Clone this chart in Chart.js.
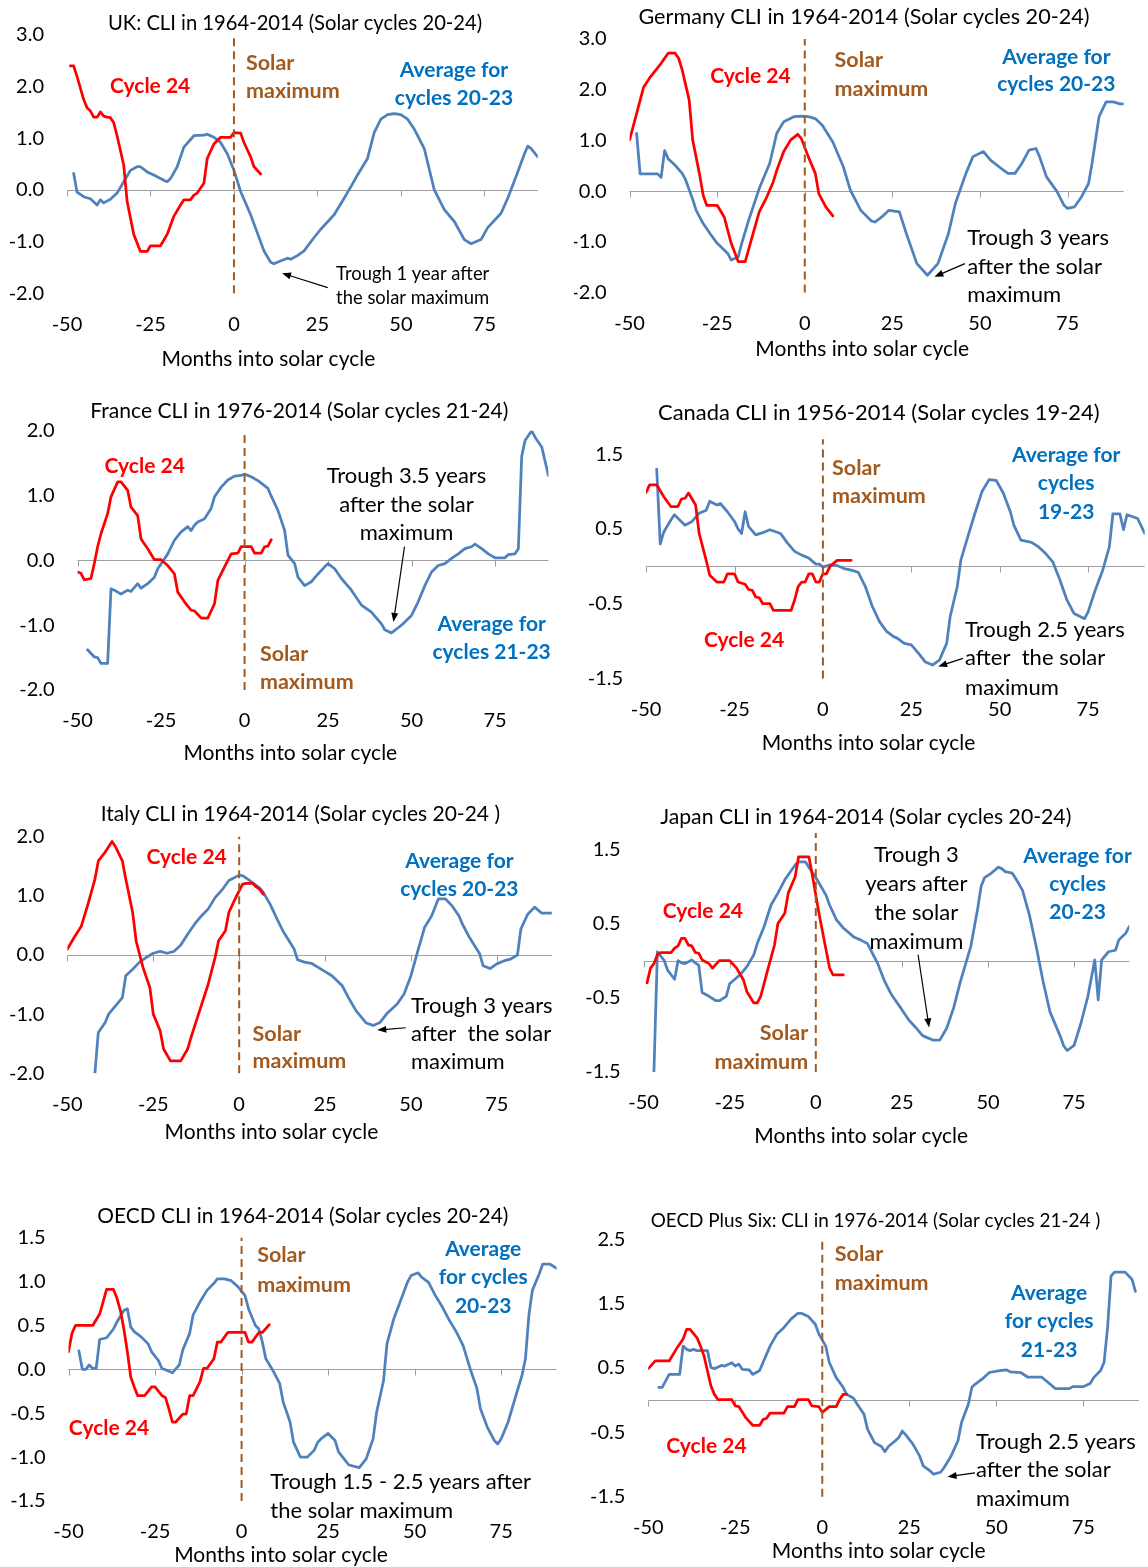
<!DOCTYPE html>
<html>
<head>
<meta charset="utf-8">
<script src="https://cdn.jsdelivr.net/npm/chart.js@4.4.1/dist/chart.umd.min.js"></script>
<style>
  body { margin: 0; background: #fff; }
  #page { position: relative; width: 1148px; height: 1567px; overflow: hidden; }
  canvas { position: absolute; }
</style>
</head>
<body>
<div id="page"></div>
<script>
// Bulan ke siklus matahari (sumbu x) dan nilai CLI per panel

// UK
const ukAvgX = [-48,-47,-45,-43,-41,-40,-39,-37,-35,-33, -31,-29,-28,-26,-24,-21,-20,-19,-17,-15,
  -12,-9,-8,-6,-4,-2,0,2,5,7, 9,11,12,13,16,17,19,21,24,26, 30,33,35,37,40,42,44,46,48,50,
  52,54,57,60,63,66,69,71,74,76, 80,82,85,87,88,89,91];
const ukAvgY = [0.32,-0.04,-0.13,-0.17,-0.29,-0.19,-0.25,-0.18,-0.06,0.16, 0.38,0.45,0.45,0.35,0.29,0.19,0.16,0.22,0.45,0.83,
  1.05,1.06,1.08,1.02,0.92,0.70,0.38,-0.03,-0.48,-0.83, -1.18,-1.40,-1.43,-1.40,-1.32,-1.34,-1.27,-1.18,-0.92,-0.76,
  -0.48,-0.16,0.06,0.29,0.61,1.11,1.37,1.46,1.48,1.46, 1.37,1.18,0.80,0.0,-0.38,-0.61,-0.96,-1.04,-0.96,-0.73,
  -0.45,-0.16,0.35,0.70,0.85,0.80,0.64];
const ukC24X = [-49,-48,-47,-45,-44,-43,-42,-41,-40,-39, -38,-37,-36,-35,-33,-32,-30,-28,-26,-25,
  -22,-20,-18,-16,-15,-13,-12,-11,-9,-8, -6,-4,-1,0,2,3,5,6,8];
const ukC24Y = [2.40,2.40,2.20,1.75,1.59,1.53,1.41,1.41,1.51,1.43, 1.41,1.40,1.30,1.05,0.48,-0.22,-0.86,-1.19,-1.19,-1.08,
  -1.08,-0.86,-0.51,-0.29,-0.19,-0.19,-0.10,-0.06,0.13,0.61, 0.89,1.02,1.02,1.11,1.10,0.92,0.64,0.45,0.31];
const ukYTicks = [-2, -1, 0, 1, 2, 3];

// Germany
const deAvgX = [-48,-47,-45,-42,-41,-40,-39,-37,-35,-34, -32,-31,-29,-27,-25,-22,-21,-19,-18,-16,
  -13,-10,-8,-6,-3,-1,1,3,5,8, 11,13,16,19,20,22,24,27,29,32, 35,38,41,43,46,48,51,53,56,58,
  60,62,64,66,67,69,72,74,75,77, 79,81,82,84,86,88,90,91];
const deAvgY = [1.14,0.34,0.34,0.34,0.27,0.80,0.64,0.51,0.35,0.22, -0.16,-0.38,-0.64,-0.84,-1.03,-1.23,-1.36,-1.30,-1.03,-0.57,
  0.05,0.55,1.14,1.37,1.47,1.48,1.47,1.43,1.30,0.97, 0.48,0.02,-0.38,-0.59,-0.61,-0.51,-0.38,-0.41,-0.84,-1.43,
  -1.66,-1.43,-0.84,-0.24,0.35,0.68,0.78,0.61,0.45,0.35, 0.35,0.55,0.81,0.84,0.68,0.28,-0.01,-0.28,-0.34,-0.31,
  -0.11,0.15,0.55,1.47,1.76,1.76,1.72,1.72];
const deC24X = [-50,-48,-46,-44,-41,-39,-37,-36,-35,-33, -32,-30,-29,-28,-25,-23,-21,-19,-17,-15,
  -13,-11,-9,-8,-6,-4,-2,-1,1,3, 4,6,8];
const deC24Y = [1.01,1.53,2.05,2.26,2.52,2.72,2.72,2.62,2.39,1.80, 1.01,0.32,-0.08,-0.28,-0.28,-0.51,-1.03,-1.39,-1.39,-0.90,
  -0.41,-0.14,0.18,0.41,0.78,1.01,1.12,1.04,0.68,0.35, -0.05,-0.31,-0.49];
const deYTicks = [-2, -1, 0, 1, 2, 3];

// France
const frAvgX = [-47,-45,-44,-43,-41,-40,-39,-38,-37,-35, -34,-32,-31,-29,-27,-26,-23,-21,-19,-17,
  -16,-15,-14,-12,-10,-9,-7,-5,-3,-1, 0,2,4,5,7,8,10,12,13,15, 16,18,20,22,24,25,27,29,32,35,
  38,39,41,42,44,46,47,50,52,54, 56,58,60,62,64,66,68,69,71,73, 75,78,79,81,82,83,84,86,87,89, 91];
const frAvgY = [-1.38,-1.49,-1.50,-1.59,-1.59,-0.44,-0.46,-0.49,-0.52,-0.46, -0.48,-0.36,-0.43,-0.36,-0.26,-0.13,0.10,0.31,0.44,0.52,
  0.46,0.54,0.59,0.64,0.80,0.98,1.13,1.24,1.30,1.31, 1.33,1.29,1.23,1.19,1.11,0.99,0.77,0.46,0.08,-0.05,
  -0.26,-0.39,-0.33,-0.21,-0.10,-0.05,-0.13,-0.28,-0.46,-0.69, -0.80,-0.86,-0.98,-1.07,-1.12,-1.04,-1.00,-0.85,-0.64,-0.39,
  -0.18,-0.08,-0.05,0.03,0.10,0.18,0.21,0.25,0.18,0.10, 0.04,0.04,0.09,0.10,0.18,1.60,1.85,2.00,1.90,1.75, 1.31];
const frC24X = [-50,-49,-48,-46,-45,-44,-43,-41,-40,-38, -37,-35,-34,-32,-31,-29,-27,-25,-23,-21,
  -20,-18,-16,-15,-13,-11,-9,-8,-6,-4, -2,-1,2,3,5,6,7,8];
const frC24Y = [-0.18,-0.20,-0.30,-0.28,-0.05,0.21,0.41,0.72,0.98,1.21, 1.21,1.08,0.82,0.69,0.33,0.18,0.01,0.01,-0.08,-0.21,
  -0.49,-0.64,-0.77,-0.78,-0.89,-0.89,-0.67,-0.31,-0.10,0.10, 0.11,0.21,0.21,0.11,0.11,0.21,0.22,0.32];
const frYTicks = [-2, -1, 0, 1, 2];

// Canada
const caAvgX = [-47,-46,-45,-43,-42,-39,-37,-35,-33,-32, -30,-29,-27,-25,-24,-23,-22,-21,-19,-17,
  -15,-12,-10,-8,-6,-4,-2,-1,0,2, 4,6,8,10,12,14,16,18,20,21, 23,25,27,29,31,33,35,36,38,39,
  41,43,45,47,49,51,53,54,56,59, 61,63,65,67,69,71,74,75,77,79, 81,82,84,85,86,89,91];
const caAvgY = [1.30,0.30,0.46,0.62,0.69,0.55,0.60,0.71,0.75,0.87, 0.82,0.84,0.73,0.60,0.50,0.44,0.73,0.53,0.42,0.45,
  0.49,0.44,0.31,0.20,0.15,0.11,0.03,0.03,-0.01,0.02, 0.01,-0.03,-0.05,-0.08,-0.27,-0.54,-0.74,-0.87,-0.94,-0.96,
  -1.03,-1.05,-1.16,-1.28,-1.32,-1.25,-1.03,-0.67,-0.27,0.08, 0.40,0.71,1.00,1.16,1.15,0.98,0.73,0.55,0.35,0.32,
  0.26,0.17,0.06,-0.18,-0.45,-0.63,-0.70,-0.61,-0.32,-0.07, 0.26,0.70,0.70,0.49,0.69,0.64,0.44];
const caC24X = [-50,-49,-47,-45,-43,-41,-40,-39,-38,-37, -36,-35,-33,-32,-30,-28,-27,-25,-24,-22,
  -21,-20,-19,-18,-17,-15,-14,-9,-8,-7, -6,-5,-4,-3,-2,-1,0,1,2,4, 8];
const caC24Y = [0.99,1.09,1.09,0.93,0.80,0.80,0.90,0.91,0.98,0.90, 0.82,0.44,0.08,-0.12,-0.21,-0.21,-0.10,-0.10,-0.21,-0.24,
  -0.31,-0.32,-0.41,-0.42,-0.50,-0.50,-0.59,-0.59,-0.45,-0.27, -0.21,-0.21,-0.10,-0.10,-0.21,-0.21,-0.10,-0.10,0.0,0.08, 0.08];
const caYTicks = [-1.5, -0.5, 0.5, 1.5];

// Italy
const itAvgX = [-42,-41,-39,-38,-36,-34,-33,-31,-29,-27, -25,-23,-21,-19,-17,-15,-13,-11,-9,-7,
  -5,-3,0,1,3,6,7,9,11,13, 16,17,19,21,23,25,27,30,32,34, 37,39,41,43,46,48,50,52,54,56,
  58,60,62,64,65,67,70,71,73,75, 77,79,81,82,84,86,88,91];
const itAvgY = [-2.0,-1.31,-1.14,-1.00,-0.86,-0.72,-0.35,-0.24,-0.12,-0.04, 0.03,0.06,0.03,0.06,0.17,0.35,0.52,0.66,0.78,0.97,
  1.10,1.26,1.35,1.34,1.26,1.13,1.06,0.86,0.61,0.38, 0.10,-0.08,-0.12,-0.14,-0.21,-0.28,-0.35,-0.52,-0.74,-0.94,
  -1.15,-1.19,-1.14,-0.99,-0.83,-0.66,-0.35,0.07,0.47,0.66, 0.95,0.95,0.83,0.66,0.52,0.30,0.02,-0.18,-0.23,-0.15,
  -0.10,-0.07,0.0,0.44,0.69,0.81,0.71,0.71];
const itC24X = [-50,-48,-46,-44,-42,-41,-39,-37,-36,-34, -33,-31,-30,-28,-26,-25,-23,-22,-20,-17,
  -15,-14,-12,-9,-7,-6,-4,-3,-1,1, 2,4,5,6,7];
const itC24Y = [0.10,0.30,0.48,0.86,1.28,1.59,1.74,1.92,1.83,1.59, 1.28,0.72,0.24,-0.21,-0.55,-1.00,-1.28,-1.59,-1.79,-1.79,
  -1.59,-1.39,-1.03,-0.49,-0.04,0.24,0.41,0.72,0.97,1.20, 1.21,1.21,1.15,1.11,1.03];
const itYTicks = [-2, -1, 0, 1, 2];

// Japan
const jpAvgX = [-47,-46,-44,-43,-41,-40,-39,-38,-36,-35, -34,-33,-31,-29,-28,-26,-25,-22,-20,-18,
  -17,-15,-13,-11,-9,-6,-5,-3,-2,0, 3,4,6,8,11,13,15,16,18,20, 22,25,27,29,31,32,34,36,38,40,
  42,45,47,48,49,51,53,54,55,57, 58,60,62,64,66,68,71,72,73,75, 77,79,81,82,83,85,87,88,90,91];
const jpAvgY = [-1.50,0.12,0.0,-0.13,-0.25,0.0,-0.03,-0.04,0.01,-0.03, -0.06,-0.43,-0.48,-0.54,-0.54,-0.48,-0.31,-0.19,-0.08,0.08,
  0.23,0.46,0.75,0.91,1.09,1.29,1.33,1.33,1.26,1.12, 0.88,0.75,0.55,0.44,0.32,0.28,0.23,0.14,-0.04,-0.28,
  -0.46,-0.66,-0.80,-0.90,-1.01,-1.03,-1.07,-1.07,-0.91,-0.64, -0.28,0.19,0.70,1.00,1.12,1.18,1.26,1.24,1.20,1.18,
  1.11,0.95,0.62,0.19,-0.28,-0.69,-1.02,-1.15,-1.21,-1.14, -0.84,-0.48,0.01,-0.53,0.01,0.12,0.14,0.28,0.37,0.46];
const jpC24X = [-49,-48,-47,-46,-45,-42,-41,-40,-39,-38, -37,-36,-35,-34,-33,-31,-30,-28,-25,-23,
  -21,-20,-18,-17,-16,-14,-12,-11,-9,-8, -6,-5,-2,-1,1,3,4,5,8];
const jpC24Y = [-0.30,-0.10,-0.04,0.08,0.11,0.11,0.17,0.20,0.30,0.30, 0.21,0.20,0.11,0.10,0.01,-0.04,-0.10,0.0,0.0,-0.10,
  -0.26,-0.42,-0.57,-0.57,-0.48,-0.13,0.21,0.50,0.64,0.91, 1.13,1.40,1.40,1.15,0.62,0.14,-0.10,-0.19,-0.19];
const jpYTicks = [-1.5, -0.5, 0.5, 1.5];

// OECD
const oeAvgX = [-47,-46,-45,-44,-43,-42,-41,-39,-37,-36, -34,-33,-32,-31,-29,-27,-26,-24,-23,-21,
  -20,-18,-17,-15,-14,-12,-10,-8,-7,-5, -3,-1,1,2,4,5,6,7,9,11, 12,14,15,17,19,21,22,23,25,27,
  28,30,31,34,36,38,39,41,42,44, 46,48,49,51,52,54,56,58,60,62, 64,66,68,69,71,73,74,75,77,79,
  81,82,83,84,86,87,89,91];
const oeAvgY = [0.21,0.0,0.0,0.05,0.01,0.01,0.34,0.36,0.46,0.54, 0.67,0.69,0.48,0.43,0.37,0.29,0.20,0.10,0.01,-0.02,
  -0.04,0.05,0.22,0.41,0.62,0.77,0.90,0.98,1.03,1.03, 1.01,0.94,0.84,0.69,0.50,0.46,0.31,0.12,-0.01,-0.16,
  -0.37,-0.60,-0.83,-1.00,-1.00,-0.92,-0.83,-0.79,-0.73,-0.81, -0.94,-1.04,-1.09,-1.12,-1.02,-0.79,-0.49,-0.13,0.29,0.58,
  0.79,1.00,1.07,1.10,1.05,0.99,0.84,0.71,0.56,0.43, 0.27,0.01,-0.22,-0.45,-0.66,-0.81,-0.85,-0.79,-0.60,-0.33,
  -0.07,0.12,0.62,0.90,1.09,1.20,1.20,1.15];
const oeC24X = [-50,-49,-48,-43,-41,-40,-39,-37,-36,-35, -34,-33,-32,-31,-30,-28,-26,-25,-23,-22,
  -21,-20,-19,-17,-16,-15,-14,-12,-11,-10, -8,-7,-6,-4,1,2,3,5,6,8];
const oeC24Y = [0.20,0.41,0.50,0.50,0.63,0.77,0.91,0.91,0.81,0.67, 0.46,0.20,-0.09,-0.20,-0.30,-0.30,-0.20,-0.20,-0.30,-0.32,
  -0.45,-0.60,-0.60,-0.51,-0.51,-0.30,-0.30,-0.14,0.01,0.01, 0.12,0.31,0.31,0.42,0.42,0.31,0.31,0.42,0.42,0.51];
const oeYTicks = [-1.5, -1, -0.5, 0, 0.5, 1, 1.5];

// OECD Plus Six
const o6AvgX = [-47,-46,-44,-41,-40,-39,-38,-37,-36,-34, -33,-32,-31,-29,-28,-26,-25,-24,-23,-21,
  -20,-18,-17,-15,-13,-11,-9,-7,-6,-4, -2,-1,1,2,4,6,7,9,10,12, 13,15,17,18,19,21,22,23,24,26,
  28,29,31,32,34,35,37,39,40,42, 43,44,46,48,51,53,54,57,59,63, 65,67,71,72,75,77,78,80,81,82,
  83,84,87,89,90];
const o6AvgY = [0.20,0.20,0.40,0.40,0.84,0.79,0.77,0.79,0.77,0.77, 0.77,0.51,0.49,0.54,0.53,0.58,0.53,0.56,0.48,0.47,
  0.40,0.46,0.59,0.84,1.03,1.13,1.26,1.35,1.35,1.30, 1.18,1.03,0.84,0.59,0.35,0.20,0.09,0.03,-0.06,-0.22,
  -0.45,-0.66,-0.72,-0.80,-0.72,-0.63,-0.58,-0.48,-0.54,-0.68, -0.87,-1.02,-1.10,-1.15,-1.12,-1.05,-0.87,-0.63,-0.35,-0.06,
  0.20,0.25,0.33,0.43,0.46,0.47,0.44,0.43,0.36,0.36, 0.27,0.18,0.18,0.21,0.21,0.26,0.35,0.46,0.59,1.13,
  1.93,1.99,1.99,1.88,1.69];
const o6C24X = [-50,-48,-44,-42,-40,-39,-38,-36,-35,-34, -32,-31,-30,-26,-25,-24,-22,-20,-18,-17,
  -16,-15,-11,-10,-8,-7,-4,-3,-1,0, 2,4,5,6,7];
const o6C24Y = [0.49,0.61,0.61,0.79,0.95,1.10,1.10,0.97,0.84,0.69, 0.22,0.09,0.01,0.01,-0.09,-0.10,-0.27,-0.39,-0.39,-0.30,
  -0.28,-0.20,-0.20,-0.10,-0.10,0.01,0.01,-0.09,-0.10,-0.19, -0.10,-0.10,0.01,0.09,0.09];
const o6YTicks = [-1.5, -0.5, 0.5, 1.5, 2.5];

const X_MIN = -50, X_MAX = 91, X_STEP = 25;

// Warna dan gaya
const BLUE = '#4F81BD', RED = '#FF0000', BROWN = '#A35A1E', AXIS = '#A0A0A0';
const FONT = 'Lato';
const STYLE = {
  axis:   ['21px ' + FONT, '#000'],
  red:    ['bold 21px ' + FONT, '#FF0000'],
  brown:  ['bold 21.5px ' + FONT, BROWN],
  blue:   ['bold 21px ' + FONT, '#0070C0'],
  note:   ['22px ' + FONT, '#000'],
  noteS:  ['18.4px ' + FONT, '#000']
};
const X_AXIS_H = 50, TICK_SIZE = 20;

// Panel: kotak kanvas, area plot (koordinat halaman), teks dan panah dalam satuan data
const panels = [
  { box: [0, 0, 574, 385], area: [67.0, 31.7, 537.8, 293.3], yMin: -2, yMax: 3, yTicks: ukYTicks,
    avg: [ukAvgX, ukAvgY], c24: [ukC24X, ukC24Y], titleSize: 20.2,
    notes: [
      ['UK: CLI in 1964-2014 (Solar cycles 20-24)', 18.3, 3.22, 'title', 'center'],
      ['Months into solar cycle', 10.3, -3.28, 'axis', 'center'],
      ['Cycle 24', -25.1, 2.0, 'red', 'center'],
      ['Solar', 3.6, 2.46, 'brown', 'left'], ['maximum', 3.6, 1.91, 'brown', 'left'],
      ['Average for', 65.9, 2.32, 'blue', 'center'], ['cycles 20-23', 65.9, 1.78, 'blue', 'center'],
      ['Trough 1 year after', 30.6, -1.62, 'noteS', 'left'], ['the solar maximum', 30.6, -2.09, 'noteS', 'left']
    ],
    arrows: [[28.1, -1.89, 14.4, -1.61]] },
  { box: [574, 0, 574, 385], area: [629.6, 39, 1123.6, 292.5], yMin: -2, yMax: 3, yTicks: deYTicks,
    avg: [deAvgX, deAvgY], c24: [deC24X, deC24Y], titleSize: 21.6,
    notes: [
      ['Germany CLI in 1964-2014 (Solar cycles 20-24)', 16.9, 3.44, 'title', 'center'],
      ['Months into solar cycle', 16.4, -3.11, 'axis', 'center'],
      ['Cycle 24', -15.5, 2.27, 'red', 'center'],
      ['Solar', 8.5, 2.59, 'brown', 'left'], ['maximum', 8.5, 2.01, 'brown', 'left'],
      ['Average for', 71.8, 2.65, 'blue', 'center'], ['cycles 20-23', 71.8, 2.11, 'blue', 'center'],
      ['Trough 3 years', 46.4, -0.93, 'note', 'left'], ['after the solar', 46.4, -1.49, 'note', 'left'],
      ['maximum', 46.4, -2.05, 'note', 'left']
    ],
    arrows: [[45.7, -1.43, 37.0, -1.69]] },
  { box: [0, 385, 574, 395], area: [77.6, 430.7, 548.4, 690], yMin: -2, yMax: 2, yTicks: frYTicks,
    avg: [frAvgX, frAvgY], c24: [frC24X, frC24Y], titleSize: 21.1,
    notes: [
      ['France CLI in 1976-2014 (Solar cycles 21-24)', 16.4, 2.30, 'title', 'center'],
      ['Months into solar cycle', 13.7, -2.98, 'axis', 'center'],
      ['Cycle 24', -29.9, 1.45, 'red', 'center'],
      ['Trough 3.5 years', 48.5, 1.30, 'note', 'center'], ['after the solar', 48.5, 0.86, 'note', 'center'],
      ['maximum', 48.5, 0.42, 'note', 'center'],
      ['Solar', 4.6, -1.44, 'brown', 'left'], ['maximum', 4.6, -1.88, 'brown', 'left'],
      ['Average for', 74, -0.98, 'blue', 'center'], ['cycles 21-23', 74, -1.41, 'blue', 'center']
    ],
    arrows: [[47.9, 0.21, 44.6, -0.95]] },
  { box: [574, 385, 574, 395], area: [646.1, 439.2, 1144.7, 678.5], yMin: -1.5, yMax: 1.7, yTicks: caYTicks,
    avg: [caAvgX, caAvgY], c24: [caC24X, caC24Y], titleSize: 21.9,
    notes: [
      ['Canada CLI in 1956-2014 (Solar cycles 19-24)', 15.8, 2.05, 'title', 'center'],
      ['Months into solar cycle', 12.9, -2.36, 'axis', 'center'],
      ['Solar', 2.6, 1.32, 'brown', 'left'], ['maximum', 2.6, 0.94, 'brown', 'left'],
      ['Average for', 68.8, 1.49, 'blue', 'center'], ['cycles', 68.8, 1.11, 'blue', 'center'],
      ['19-23', 68.8, 0.73, 'blue', 'center'],
      ['Cycle 24', -22.3, -0.99, 'red', 'center'],
      ['Trough 2.5 years', 40.2, -0.85, 'note', 'left'], ['after  the solar', 40.2, -1.23, 'note', 'left'],
      ['maximum', 40.2, -1.62, 'note', 'left']
    ],
    arrows: [[39.6, -1.23, 32.6, -1.34]] },
  { box: [0, 780, 574, 405], area: [67.4, 836.7, 551.8, 1073.3], yMin: -2, yMax: 2, yTicks: itYTicks,
    avg: [itAvgX, itAvgY], c24: [itC24X, itC24Y], titleSize: 21.0,
    notes: [
      ['Italy CLI in 1964-2014 (Solar cycles 20-24 )', 17.8, 2.38, 'title', 'center'],
      ['Months into solar cycle', 9.4, -3.0, 'axis', 'center'],
      ['Cycle 24', -15.3, 1.65, 'red', 'center'],
      ['Average for', 64.1, 1.58, 'blue', 'center'], ['cycles 20-23', 64.1, 1.12, 'blue', 'center'],
      ['Solar', 3.9, -1.34, 'brown', 'left'], ['maximum', 3.9, -1.80, 'brown', 'left'],
      ['Trough 3 years', 50, -0.86, 'note', 'left'], ['after  the solar', 50, -1.34, 'note', 'left'],
      ['maximum', 50, -1.81, 'note', 'left']
    ],
    arrows: [[48.5, -1.23, 40.2, -1.27]] },
  { box: [574, 780, 574, 405], area: [643.6, 833, 1129.2, 1072], yMin: -1.5, yMax: 1.72, yTicks: jpYTicks,
    avg: [jpAvgX, jpAvgY], c24: [jpC24X, jpC24Y], titleSize: 21.2,
    notes: [
      ['Japan CLI in 1964-2014 (Solar cycles 20-24)', 14.5, 1.93, 'title', 'center'],
      ['Months into solar cycle', 13.2, -2.37, 'axis', 'center'],
      ['Cycle 24', -32.8, 0.67, 'red', 'center'],
      ['Trough 3', 29.2, 1.42, 'note', 'center'], ['years after', 29.2, 1.03, 'note', 'center'],
      ['the solar', 29.2, 0.64, 'note', 'center'], ['maximum', 29.2, 0.25, 'note', 'center'],
      ['Average for', 76, 1.41, 'blue', 'center'], ['cycles', 76, 1.03, 'blue', 'center'],
      ['20-23', 76, 0.65, 'blue', 'center'],
      ['Solar', -2.2, -0.97, 'brown', 'right'], ['maximum', -2.2, -1.36, 'brown', 'right']
    ],
    arrows: [[29.7, 0.08, 32.9, -0.90]] },
  { box: [0, 1185, 574, 382], area: [68.5, 1237.7, 556.6, 1501], yMin: -1.5, yMax: 1.5, yTicks: oeYTicks,
    avg: [oeAvgX, oeAvgY], c24: [oeC24X, oeC24Y], titleSize: 20.9,
    notes: [
      ['OECD CLI in 1964-2014 (Solar cycles 20-24)', 17.7, 1.74, 'title', 'center'],
      ['Months into solar cycle', 11.4, -2.12, 'axis', 'center'],
      ['Solar', 4.5, 1.30, 'brown', 'left'], ['maximum', 4.5, 0.96, 'brown', 'left'],
      ['Average', 69.8, 1.37, 'blue', 'center'], ['for cycles', 69.8, 1.05, 'blue', 'center'],
      ['20-23', 69.8, 0.72, 'blue', 'center'],
      ['Cycle 24', -38.3, -0.67, 'red', 'center'],
      ['Trough 1.5 - 2.5 years after', 8.3, -1.28, 'note', 'left'],
      ['the solar maximum', 8.3, -1.61, 'note', 'left']
    ],
    arrows: [] },
  { box: [574, 1185, 574, 382], area: [648.3, 1239.3, 1138.9, 1496.7], yMin: -1.5, yMax: 2.5, yTicks: o6YTicks,
    avg: [o6AvgX, o6AvgY], c24: [o6C24X, o6C24Y], titleSize: 18.9,
    notes: [
      ['OECD Plus Six: CLI in 1976-2014 (Solar cycles 21-24 )', 15.3, 2.79, 'title', 'center'],
      ['Months into solar cycle', 16.2, -2.34, 'axis', 'center'],
      ['Solar', 3.6, 2.27, 'brown', 'left'], ['maximum', 3.6, 1.82, 'brown', 'left'],
      ['Average', 65.2, 1.66, 'blue', 'center'], ['for cycles', 65.2, 1.22, 'blue', 'center'],
      ['21-23', 65.2, 0.77, 'blue', 'center'],
      ['Cycle 24', -33.3, -0.72, 'red', 'center'],
      ['Trough 2.5 years', 44.2, -0.65, 'note', 'left'], ['after the solar', 44.2, -1.08, 'note', 'left'],
      ['maximum', 44.2, -1.53, 'note', 'left']
    ],
    arrows: [[43.9, -1.13, 36, -1.19]] }
];

function toPoints(xs, ys) {
  return xs.map((x, i) => ({ x: x, y: ys[i] }));
}

// Plugin untuk garis nol, tanda tick, teks dan panah
function makeDecor(p) {
  return {
    id: 'decor',
    beforeDatasetsDraw(chart) {
      const { ctx, chartArea: a, scales: { x, y } } = chart;
      const y0 = Math.round(y.getPixelForValue(0)) + 0.5;
      ctx.save();
      ctx.strokeStyle = AXIS;
      ctx.lineWidth = 1;
      ctx.beginPath();
      ctx.moveTo(a.left, y0);
      ctx.lineTo(a.right, y0);
      x.ticks.forEach(t => {
        const px = Math.round(x.getPixelForValue(t.value)) + 0.5;
        ctx.moveTo(px, y0);
        ctx.lineTo(px, y0 + 6);
      });
      ctx.stroke();
      ctx.restore();
    },
    afterDraw(chart) {
      const { ctx, scales: { x, y } } = chart;
      ctx.save();
      ctx.textBaseline = 'middle';
      p.notes.forEach(([text, mx, vy, kind, align]) => {
        if (kind === 'title') {
          ctx.font = p.titleSize + 'px ' + FONT;
          ctx.fillStyle = '#000';
        } else {
          ctx.font = STYLE[kind][0];
          ctx.fillStyle = STYLE[kind][1];
        }
        ctx.textAlign = align;
        ctx.fillText(text, x.getPixelForValue(mx), y.getPixelForValue(vy));
      });
      ctx.strokeStyle = '#000';
      ctx.fillStyle = '#000';
      ctx.lineWidth = 1.2;
      p.arrows.forEach(([m1, v1, m2, v2]) => {
        const x1 = x.getPixelForValue(m1), y1 = y.getPixelForValue(v1);
        const x2 = x.getPixelForValue(m2), y2 = y.getPixelForValue(v2);
        const ang = Math.atan2(y2 - y1, x2 - x1);
        const c = Math.cos(ang), s = Math.sin(ang);
        ctx.beginPath();
        ctx.moveTo(x1, y1);
        ctx.lineTo(x2 - 6 * c, y2 - 6 * s);
        ctx.stroke();
        ctx.beginPath();
        ctx.moveTo(x2, y2);
        ctx.lineTo(x2 - 9 * c + 3.5 * s, y2 - 9 * s - 3.5 * c);
        ctx.lineTo(x2 - 9 * c - 3.5 * s, y2 - 9 * s + 3.5 * c);
        ctx.closePath();
        ctx.fill();
      });
      ctx.restore();
    }
  };
}

const page = document.getElementById('page');

panels.forEach(p => {
  const [bl, bt, bw, bh] = p.box;
  const [al, at, ar, ab] = p.area;
  const yAxisW = al - bl;
  const canvas = document.createElement('canvas');
  canvas.width = bw;
  canvas.height = bh;
  canvas.style.left = bl + 'px';
  canvas.style.top = bt + 'px';
  page.appendChild(canvas);

  new Chart(canvas, {
    type: 'line',
    data: {
      datasets: [
        { data: [{ x: 0, y: p.yMin }, { x: 0, y: p.yMax }], borderColor: BROWN, borderWidth: 2,
          borderDash: [8, 5], pointRadius: 0, clip: false },
        { data: toPoints(p.c24[0], p.c24[1]), borderColor: RED, borderWidth: 2.75,
          pointRadius: 0, borderJoinStyle: 'round', borderCapStyle: 'round' },
        { data: toPoints(p.avg[0], p.avg[1]), borderColor: BLUE, borderWidth: 2.75,
          pointRadius: 0, borderJoinStyle: 'round', borderCapStyle: 'round' }
      ]
    },
    options: {
      responsive: false,
      animation: false,
      layout: {
        padding: {
          left: 0,
          top: at - bt,
          right: bl + bw - ar,
          bottom: bt + bh - ab - X_AXIS_H
        }
      },
      plugins: { legend: { display: false }, tooltip: { enabled: false } },
      scales: {
        x: {
          type: 'linear', min: X_MIN, max: X_MAX,
          grid: { display: false, drawTicks: false }, border: { display: false },
          ticks: { stepSize: X_STEP, includeBounds: false, autoSkip: false, maxRotation: 0,
                   padding: 19, color: '#000', font: { family: FONT, size: TICK_SIZE } },
          afterFit: s => { s.height = X_AXIS_H; }
        },
        y: {
          min: p.yMin, max: p.yMax,
          grid: { display: false, drawTicks: false }, border: { display: false },
          afterBuildTicks: s => { s.ticks = p.yTicks.map(v => ({ value: v })); },
          ticks: { padding: 23, color: '#000', font: { family: FONT, size: TICK_SIZE },
                   callback: v => Number(v).toFixed(1) },
          afterFit: s => { s.width = yAxisW; }
        }
      }
    },
    plugins: [makeDecor(p)]
  });
});
</script>
</body>
</html>
